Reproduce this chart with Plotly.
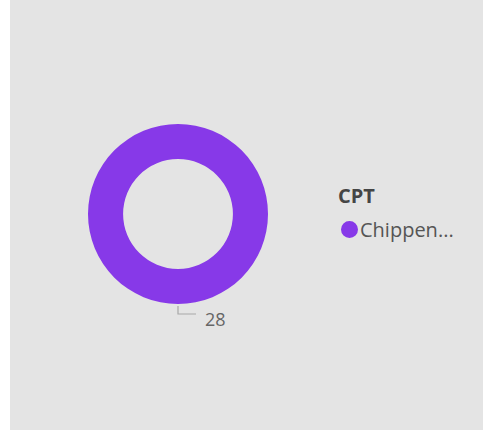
import plotly.graph_objects as go

W, H = 487, 441
categories = ["Chippenham"]
values = [28]
legend_title = "CPT"
legend_label = "Chippen..."
colors = ["#8739E8"]

def px(x):
    return x / W

def py(y):
    return 1 - y / H

cx, cy, r = 178, 214, 90

fig = go.Figure(go.Pie(
    labels=categories, values=values, hole=0.61,
    marker=dict(colors=colors, line=dict(width=0)),
    textinfo="none", hoverinfo="label+value", sort=False,
    domain=dict(x=[px(cx - r), px(cx + r)], y=[py(cy + r), py(cy - r)]),
    showlegend=False,
))

shapes = [
    dict(type="rect", xref="paper", yref="paper", x0=px(10), x1=px(483), y0=py(430), y1=1,
         fillcolor="#e4e4e4", line=dict(width=0), layer="below"),
    dict(type="path", xref="paper", yref="paper",
         path=f"M {px(178)} {py(306)} L {px(178)} {py(314)} L {px(196)} {py(314)}",
         line=dict(color="#a8a8a8", width=1.2)),
    dict(type="circle", xref="paper", yref="paper", x0=px(341), x1=px(358), y0=py(238), y1=py(221),
         fillcolor=colors[0], line=dict(width=0)),
]

annotations = [
    dict(text=str(values[0]), x=px(203), y=py(318.5), xref="paper", yref="paper", showarrow=False,
         xanchor="left", yanchor="middle", font=dict(family="Open Sans", size=18, color="#666666")),
    dict(text=f"<b>{legend_title}</b>", x=px(336), y=py(195), xref="paper", yref="paper", showarrow=False,
         xanchor="left", yanchor="middle", font=dict(family="Open Sans", size=20, color="#454545")),
    dict(text=legend_label, x=px(358), y=py(229.5), xref="paper", yref="paper", showarrow=False,
         xanchor="left", yanchor="middle", font=dict(family="Open Sans", size=20, color="#555555")),
]

fig.update_layout(
    width=W, height=H, margin=dict(l=0, r=0, t=0, b=0),
    paper_bgcolor="white", plot_bgcolor="white",
    shapes=shapes, annotations=annotations,
)

fig.write_html("out.html", config={"displayModeBar": False},
               post_script="document.body.style.margin='0';document.body.style.overflow='hidden';")
